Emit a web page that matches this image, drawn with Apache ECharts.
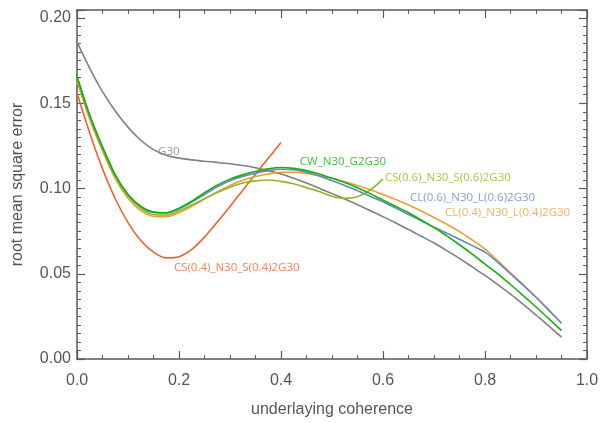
<!DOCTYPE html>
<html>
<head>
<meta charset="utf-8">
<script src="https://cdn.jsdelivr.net/npm/echarts@6/dist/echarts.min.js"></script>
<style>
  html, body { margin: 0; padding: 0; background: #fff; }
  #chart { width: 606px; height: 423px; }
</style>
</head>
<body>
<div id="chart"></div>
<script>
// Coherence sample positions (x) for the full-range curves
const xFull = [0, 0.025, 0.05, 0.075, 0.1, 0.125, 0.15, 0.175, 0.2, 0.225,
  0.25, 0.275, 0.3, 0.325, 0.35, 0.375, 0.4, 0.425, 0.45, 0.475,
  0.5, 0.525, 0.55, 0.575, 0.6, 0.625, 0.65, 0.675, 0.7, 0.725,
  0.75, 0.775, 0.8, 0.825, 0.85, 0.875, 0.9, 0.925, 0.95];

// RMSE values per method
const g30 = [0.186, 0.1705, 0.1568, 0.1455, 0.136, 0.1283, 0.1228, 0.1195, 0.1178, 0.1168,
  0.116, 0.1153, 0.1145, 0.1135, 0.1122, 0.1105, 0.1085, 0.106, 0.1032, 0.1002,
  0.097, 0.0938, 0.0905, 0.087, 0.0835, 0.0798, 0.076, 0.072, 0.068, 0.0636,
  0.059, 0.054, 0.049, 0.0436, 0.038, 0.032, 0.0258, 0.0194, 0.0128];
const cwG2G30 = [0.166, 0.143, 0.1245, 0.108, 0.0965, 0.0895, 0.0862, 0.0858, 0.0885, 0.0925,
  0.0975, 0.102, 0.1055, 0.108, 0.110, 0.1115, 0.1123, 0.1118, 0.1105, 0.1085,
  0.106, 0.1035, 0.1005, 0.097, 0.0932, 0.0895, 0.0858, 0.0815, 0.0772, 0.0722,
  0.067, 0.0615, 0.0557, 0.050, 0.0437, 0.0372, 0.0305, 0.0237, 0.0166];
const cl06 = [0.165, 0.1425, 0.124, 0.1078, 0.0963, 0.0893, 0.086, 0.0857, 0.088, 0.092,
  0.0965, 0.101, 0.1045, 0.107, 0.109, 0.1105, 0.1113, 0.111, 0.1095, 0.1073,
  0.1045, 0.1018, 0.0987, 0.0955, 0.0922, 0.0885, 0.0848, 0.081, 0.0773, 0.0738,
  0.0702, 0.0665, 0.0627, 0.0567, 0.050, 0.0432, 0.0362, 0.0287, 0.021];
const cl04 = [0.163, 0.1405, 0.122, 0.1058, 0.0943, 0.087, 0.0837, 0.0835, 0.0858, 0.0895,
  0.0938, 0.098, 0.1018, 0.1048, 0.107, 0.1085, 0.1095, 0.1095, 0.1088, 0.1075,
  0.106, 0.104, 0.1018, 0.0993, 0.0965, 0.0935, 0.0903, 0.0868, 0.083, 0.079,
  0.0747, 0.0698, 0.0645, 0.0577, 0.0505, 0.0435, 0.0362, 0.0287, 0.021];

// Shorter curves
const xCs06 = [0, 0.025, 0.05, 0.075, 0.1, 0.125, 0.15, 0.175, 0.2, 0.225, 0.25, 0.275, 0.3, 0.325,
  0.35, 0.375, 0.4, 0.425, 0.45, 0.475, 0.5, 0.525, 0.55, 0.575, 0.6];
const cs06 = [0.165, 0.1425, 0.1235, 0.1072, 0.0957, 0.0883, 0.0848, 0.0845, 0.0868, 0.0903, 0.094, 0.0976, 0.1007, 0.1032,
  0.1045, 0.105, 0.1042, 0.1028, 0.1005, 0.0982, 0.0955, 0.0942, 0.0952, 0.0992, 0.1055];
const xCs04 = [0, 0.025, 0.05, 0.075, 0.1, 0.125, 0.15, 0.175, 0.2, 0.225, 0.25, 0.275, 0.3, 0.325, 0.35, 0.375, 0.4];
const cs04 = [0.156, 0.1325, 0.1115, 0.094, 0.080, 0.0695, 0.0627, 0.0593, 0.060, 0.0643, 0.0715, 0.0803, 0.0895, 0.099, 0.1083, 0.1177, 0.127];

// Axis ticks
const xTicks = [0, 0.2, 0.4, 0.6, 0.8, 1.0];
const yTicks = [0, 0.05, 0.10, 0.15, 0.20];

const curves = [
  { name: 'G30', x: xFull, y: g30, color: '#808080', label: [0.159, 0.1215] },
  { name: 'CS(0.4)_N30_S(0.4)2G30', x: xCs04, y: cs04, color: '#f0602c', label: [0.190, 0.0538] },
  { name: 'CL(0.4)_N30_L(0.4)2G30', x: xFull, y: cl04, color: '#e9a030', label: [0.7216, 0.086] },
  { name: 'CL(0.6)_N30_L(0.6)2G30', x: xFull, y: cl06, color: '#6687c4', label: [0.653, 0.0947] },
  { name: 'CS(0.6)_N30_S(0.6)2G30', x: xCs06, y: cs06, color: '#8db52c', label: [0.604, 0.1064] },
  { name: 'CW_N30_G2G30', x: xFull, y: cwG2G30, color: '#12b012', label: [0.437, 0.1155] }
];

const axisColor = '#5a5a5a';
const tickFont = { fontFamily: 'Liberation Sans', fontSize: 16, color: '#555' };

function frameAxis(extra) {
  return Object.assign({
    type: 'value',
    axisLine: { show: true, onZero: false, lineStyle: { color: axisColor, width: 1.5 } },
    axisTick: { show: true, inside: true, length: 8, lineStyle: { color: axisColor, width: 1.2 } },
    splitLine: { show: false },
    minorSplitLine: { show: false }
  }, extra);
}

const series = [];
curves.forEach(c => {
  series.push({
    type: 'line',
    name: c.name,
    data: c.x.map((v, i) => [v, c.y[i]]),
    smooth: 0.3,
    showSymbol: false,
    lineStyle: { color: c.color, width: 1.6 },
    silent: true,
    z: 3
  });
  series.push({
    type: 'scatter',
    name: c.name + ' label',
    data: [[c.label[0], c.label[1]]],
    symbolSize: 0,
    silent: true,
    label: {
      show: true,
      position: 'inside',
      align: 'left',
      verticalAlign: 'middle',
      formatter: c.name,
      color: c.color,
      fontFamily: 'Open Sans',
      fontSize: 11.5
    },
    z: 4
  });
});

const minorX = { show: true, splitNumber: 4, length: 4, lineStyle: { color: axisColor, width: 1 } };
const minorY = { show: true, splitNumber: 10, length: 4, lineStyle: { color: axisColor, width: 1 } };

const chart = echarts.init(document.getElementById('chart'), null, { renderer: 'canvas' });
chart.setOption({
  animation: false,
  backgroundColor: '#ffffff',
  grid: { left: 77, right: 19, top: 10, bottom: 63, containLabel: false },
  xAxis: [
    frameAxis({
      position: 'bottom', min: xTicks[0], max: xTicks[xTicks.length - 1], interval: 0.2,
      minorTick: minorX,
      axisLabel: { show: true, margin: 14, ...tickFont, formatter: v => v.toFixed(1) },
      name: 'underlaying coherence', nameLocation: 'middle', nameGap: 43,
      nameTextStyle: { fontFamily: 'Liberation Sans', fontSize: 16, color: '#555' }
    }),
    frameAxis({
      position: 'top', min: xTicks[0], max: xTicks[xTicks.length - 1], interval: 0.2,
      minorTick: minorX,
      axisLabel: { show: false }
    })
  ],
  yAxis: [
    frameAxis({
      position: 'left', min: yTicks[0], max: 0.2047, interval: 0.05,
      minorTick: minorY,
      axisLabel: { show: true, margin: 6, showMaxLabel: false, ...tickFont, formatter: v => v.toFixed(2) },
      name: 'root mean square error', nameLocation: 'middle', nameGap: 51,
      nameTextStyle: { fontFamily: 'Liberation Sans', fontSize: 16, color: '#555' }
    }),
    frameAxis({
      position: 'right', min: yTicks[0], max: 0.2047, interval: 0.05,
      minorTick: minorY,
      axisLabel: { show: false }
    })
  ],
  series: series
});
</script>
</body>
</html>
